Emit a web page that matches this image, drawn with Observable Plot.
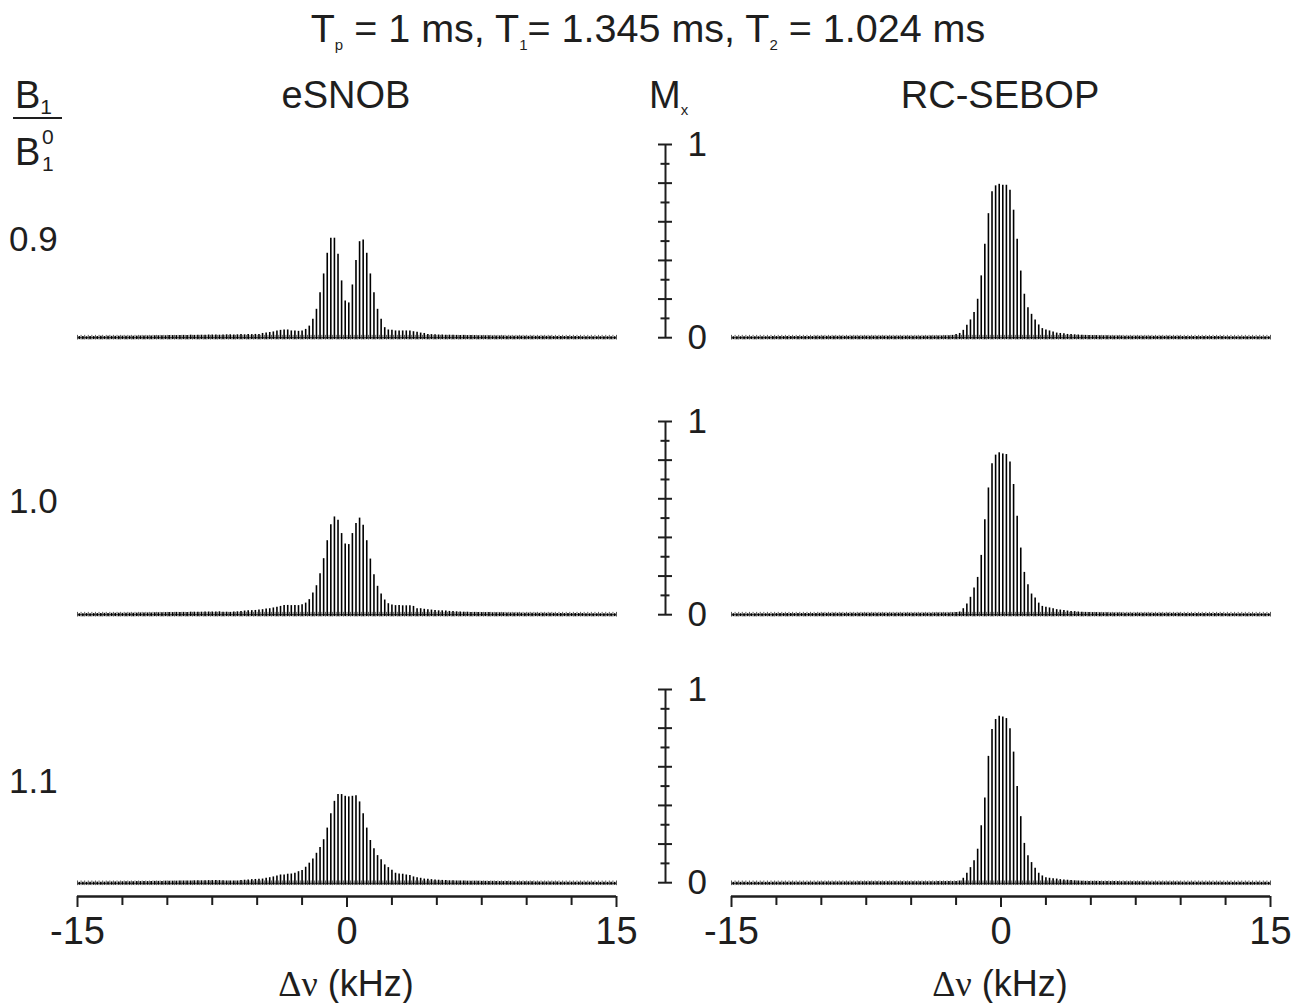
<!DOCTYPE html>
<html><head><meta charset="utf-8">
<script src="https://cdn.jsdelivr.net/npm/d3@7"></script>
<script src="https://cdn.jsdelivr.net/npm/@observablehq/plot@0.6"></script>
<style>
body{margin:0;background:#fff;font-family:"Liberation Sans",Arial,Helvetica,sans-serif;}
#root{position:relative;width:1302px;height:1003px;overflow:hidden;background:#fff;}
.t{position:absolute;white-space:nowrap;color:#1e1e1e;line-height:1;}
.t sub{font-size:15px;vertical-align:-8px;line-height:0;}
.c{transform:translateX(-50%);}
.plt{position:absolute;}
</style></head><body><div id="root"></div>
<script>
// ---------- data ----------
// stick positions (kHz): -14.9 ... 14.9 every 0.2 kHz
const freqs = d3.range(150).map(k => +(-14.9 + 0.2 * k).toFixed(1));
const gridFreqs = d3.range(151).map(k => +(-15 + 0.2 * k).toFixed(1));

const eSNOB_09 = [
0.006,0.006,0.005,0.006,0.006,0.006,0.007,0.006,0.007,0.007,
0.007,0.007,0.008,0.008,0.008,0.008,0.008,0.009,0.009,0.009,
0.009,0.010,0.010,0.010,0.010,0.011,0.011,0.011,0.012,0.012,
0.012,0.013,0.012,0.013,0.013,0.013,0.014,0.014,0.014,0.013,
0.014,0.015,0.015,0.014,0.015,0.016,0.015,0.016,0.016,0.017,
0.017,0.022,0.024,0.027,0.030,0.035,0.038,0.040,0.040,0.035,
0.035,0.033,0.035,0.043,0.060,0.095,0.147,0.233,0.330,0.437,
0.515,0.515,0.432,0.294,0.190,0.180,0.273,0.400,0.497,0.506,
0.437,0.330,0.233,0.147,0.095,0.052,0.040,0.038,0.035,0.035,
0.035,0.035,0.035,0.031,0.028,0.024,0.022,0.017,0.016,0.015,
0.014,0.014,0.013,0.013,0.013,0.012,0.012,0.012,0.011,0.011,
0.011,0.010,0.010,0.010,0.010,0.009,0.009,0.009,0.009,0.008,
0.008,0.008,0.008,0.008,0.008,0.007,0.007,0.007,0.007,0.007,
0.007,0.007,0.006,0.006,0.006,0.006,0.006,0.006,0.006,0.006,
0.005,0.005,0.005,0.005,0.005,0.005,0.005,0.005,0.005,0.005];

const eSNOB_10 = [
0.005,0.005,0.006,0.005,0.006,0.006,0.006,0.007,0.006,0.007,
0.007,0.007,0.007,0.008,0.008,0.008,0.008,0.009,0.009,0.009,
0.009,0.010,0.010,0.010,0.011,0.011,0.011,0.012,0.012,0.012,
0.012,0.013,0.013,0.013,0.013,0.014,0.014,0.014,0.014,0.015,
0.013,0.013,0.012,0.014,0.015,0.017,0.019,0.020,0.021,0.022,
0.024,0.026,0.030,0.031,0.035,0.038,0.043,0.047,0.048,0.047,
0.047,0.047,0.052,0.060,0.078,0.112,0.150,0.212,0.290,0.383,
0.466,0.506,0.489,0.420,0.366,0.363,0.420,0.472,0.500,0.463,
0.383,0.288,0.207,0.147,0.107,0.076,0.057,0.050,0.047,0.047,
0.046,0.046,0.046,0.043,0.031,0.031,0.028,0.026,0.024,0.022,
0.020,0.020,0.019,0.017,0.016,0.015,0.014,0.013,0.013,0.012,
0.012,0.012,0.011,0.011,0.011,0.010,0.010,0.010,0.010,0.009,
0.009,0.009,0.009,0.008,0.008,0.008,0.008,0.008,0.007,0.007,
0.007,0.007,0.007,0.006,0.006,0.006,0.006,0.006,0.006,0.006,
0.006,0.005,0.005,0.005,0.005,0.005,0.005,0.005,0.005,0.005];

const eSNOB_11 = [
0.005,0.005,0.005,0.006,0.006,0.006,0.006,0.006,0.007,0.007,
0.007,0.007,0.008,0.008,0.008,0.008,0.009,0.009,0.009,0.009,
0.010,0.010,0.010,0.010,0.011,0.011,0.011,0.011,0.012,0.012,
0.012,0.012,0.013,0.013,0.013,0.013,0.014,0.014,0.014,0.014,
0.013,0.012,0.012,0.012,0.012,0.014,0.016,0.017,0.019,0.020,
0.021,0.022,0.026,0.029,0.033,0.038,0.043,0.043,0.047,0.048,
0.052,0.060,0.066,0.083,0.104,0.126,0.155,0.185,0.225,0.285,
0.359,0.423,0.458,0.458,0.449,0.446,0.449,0.452,0.420,0.359,
0.285,0.221,0.178,0.143,0.121,0.095,0.081,0.067,0.052,0.048,
0.047,0.043,0.040,0.033,0.029,0.026,0.022,0.021,0.019,0.017,
0.016,0.015,0.014,0.013,0.013,0.012,0.012,0.012,0.011,0.011,
0.011,0.011,0.010,0.010,0.010,0.010,0.009,0.009,0.009,0.009,
0.009,0.008,0.008,0.008,0.008,0.008,0.008,0.007,0.007,0.007,
0.007,0.007,0.007,0.007,0.006,0.006,0.006,0.006,0.006,0.006,
0.006,0.006,0.006,0.005,0.005,0.005,0.005,0.005,0.005,0.005];

const sebop_09 = [
0.005,0.005,0.005,0.005,0.005,0.005,0.005,0.005,0.005,0.005,
0.005,0.006,0.006,0.006,0.006,0.006,0.006,0.006,0.006,0.006,
0.006,0.006,0.006,0.007,0.007,0.007,0.007,0.007,0.007,0.007,
0.007,0.007,0.007,0.007,0.008,0.008,0.008,0.008,0.008,0.008,
0.008,0.008,0.008,0.008,0.008,0.008,0.008,0.008,0.008,0.008,
0.008,0.008,0.008,0.008,0.008,0.009,0.009,0.009,0.009,0.010,
0.010,0.012,0.017,0.022,0.038,0.064,0.092,0.130,0.199,0.320,
0.484,0.642,0.756,0.786,0.794,0.789,0.789,0.763,0.660,0.510,
0.345,0.225,0.155,0.121,0.092,0.066,0.047,0.040,0.035,0.029,
0.024,0.022,0.021,0.017,0.016,0.015,0.014,0.013,0.012,0.012,
0.011,0.011,0.010,0.010,0.010,0.009,0.009,0.009,0.009,0.008,
0.008,0.008,0.008,0.008,0.008,0.008,0.007,0.007,0.007,0.007,
0.007,0.007,0.007,0.007,0.007,0.006,0.006,0.006,0.006,0.006,
0.006,0.006,0.006,0.006,0.006,0.006,0.006,0.005,0.005,0.005,
0.005,0.005,0.005,0.005,0.005,0.005,0.005,0.005,0.005,0.005];

const sebop_10 = [
0.005,0.005,0.005,0.005,0.005,0.005,0.005,0.005,0.005,0.005,
0.005,0.005,0.006,0.006,0.006,0.006,0.006,0.006,0.006,0.006,
0.006,0.006,0.006,0.006,0.007,0.007,0.007,0.007,0.007,0.007,
0.007,0.007,0.007,0.007,0.007,0.008,0.008,0.008,0.008,0.008,
0.008,0.008,0.008,0.008,0.008,0.008,0.008,0.008,0.008,0.008,
0.008,0.008,0.008,0.008,0.008,0.008,0.009,0.009,0.009,0.009,
0.009,0.010,0.011,0.014,0.031,0.055,0.090,0.138,0.193,0.307,
0.492,0.656,0.781,0.826,0.838,0.832,0.829,0.791,0.674,0.510,
0.345,0.219,0.155,0.107,0.086,0.060,0.043,0.038,0.035,0.031,
0.026,0.024,0.022,0.019,0.017,0.016,0.014,0.013,0.012,0.011,
0.011,0.011,0.010,0.010,0.010,0.009,0.009,0.009,0.009,0.008,
0.008,0.008,0.008,0.008,0.008,0.008,0.007,0.007,0.007,0.007,
0.007,0.007,0.007,0.007,0.007,0.006,0.006,0.006,0.006,0.006,
0.006,0.006,0.006,0.006,0.006,0.006,0.006,0.005,0.005,0.005,
0.005,0.005,0.005,0.005,0.005,0.005,0.005,0.005,0.005,0.005];

const sebop_11 = [
0.005,0.005,0.005,0.005,0.005,0.005,0.005,0.005,0.005,0.005,
0.005,0.005,0.006,0.006,0.006,0.006,0.006,0.006,0.006,0.006,
0.006,0.006,0.006,0.006,0.007,0.007,0.007,0.007,0.007,0.007,
0.007,0.007,0.007,0.007,0.007,0.008,0.008,0.008,0.008,0.008,
0.008,0.008,0.008,0.008,0.008,0.008,0.008,0.008,0.008,0.008,
0.008,0.008,0.008,0.008,0.008,0.008,0.008,0.009,0.009,0.009,
0.009,0.009,0.010,0.012,0.026,0.052,0.081,0.116,0.176,0.297,
0.440,0.655,0.793,0.845,0.862,0.858,0.850,0.798,0.677,0.499,
0.344,0.206,0.142,0.107,0.078,0.052,0.038,0.029,0.026,0.024,
0.022,0.019,0.017,0.016,0.014,0.013,0.012,0.011,0.010,0.010,
0.010,0.010,0.010,0.009,0.009,0.009,0.009,0.009,0.008,0.008,
0.008,0.008,0.008,0.008,0.008,0.008,0.007,0.007,0.007,0.007,
0.007,0.007,0.007,0.007,0.007,0.006,0.006,0.006,0.006,0.006,
0.006,0.006,0.006,0.006,0.006,0.006,0.006,0.005,0.005,0.005,
0.005,0.005,0.005,0.005,0.005,0.005,0.005,0.005,0.005,0.005];

const rowLabels = ["0.9", "1.0", "1.1"];
const columnTitles = ["eSNOB", "RC-SEBOP"];
const panelSeries = [[eSNOB_09, sebop_09], [eSNOB_10, sebop_10], [eSNOB_11, sebop_11]];
const xTickMajor = [-15, 0, 15];
const xTickMinor = [-12.5, -10, -7.5, -5, -2.5, 2.5, 5, 7.5, 10, 12.5];
const yTickMajor = [0, 0.2, 0.4, 0.6, 0.8, 1];
const yTickMinor = [0.1, 0.3, 0.5, 0.7, 0.9];
const yTickLabels = [0, 1];

// ---------- layout ----------
const root = document.getElementById("root");
const U = 193.5;                 // px per unit of Mx
const rowTop = [144, 421, 689];  // pixel of Mx = 1 per row
const colX0 = [77, 731];
const colW = 539;
const INK = "#1e1e1e";

function place(el, left, top) {
  el.classList.add("plt");
  el.style.left = left + "px";
  el.style.top = top + "px";
  root.appendChild(el);
}
function text(html, left, top, size, extra = "", cls = "t") {
  const d = document.createElement("div");
  d.className = cls;
  d.innerHTML = html;
  d.style.left = left + "px";
  d.style.top = top + "px";
  d.style.fontSize = size + "px";
  if (extra) d.style.cssText += extra;
  root.appendChild(d);
  return d;
}
const fmt = d => (d < 0 ? "-" + Math.abs(d) : String(d));

function panel(values, r, c) {
  const bottom = r === 2;
  const yMin = bottom ? -0.068 : -0.03;
  const mt = 12, mb = bottom ? 70 : 4;
  const h = Math.round(mt + (1 - yMin) * U + mb);
  const data = freqs.map((f, i) => ({f, v: values[i]}));
  const marks = [
    Plot.ruleY([0], {stroke: "#444", strokeWidth: 1.2}),
    Plot.ruleX(gridFreqs, {x: d => d, y1: -0.012, y2: 0.012, stroke: "#444", strokeWidth: 0.9}),
    Plot.ruleX(data, {x: "f", y1: -0.01, y2: "v", stroke: "#000", strokeWidth: 1.6})
  ];
  if (bottom) {
    marks.push(
      Plot.ruleY([yMin], {stroke: INK, strokeWidth: 2.6}),
      Plot.axisX({ticks: xTickMajor, tickSize: 11, tickPadding: 10, tickFormat: fmt, label: null, strokeWidth: 2, fontSize: 38}),
      Plot.axisX({ticks: xTickMinor, tickSize: 9, tickFormat: () => "", label: null, strokeWidth: 2})
    );
  }
  const svg = Plot.plot({
    width: colW + 40, height: h,
    marginLeft: 20, marginRight: 20, marginTop: mt, marginBottom: mb,
    x: {domain: [-15, 15], axis: null, label: null},
    y: {domain: [yMin, 1], axis: null, label: null},
    style: {color: INK, fontSize: "38px", fontFamily: "Liberation Sans, Arial, sans-serif", background: "transparent", overflow: "visible"},
    marks
  });
  place(svg, colX0[c] - 20, rowTop[r] - mt);
}

function yAxis(r) {
  const yMin = -0.03, mt = 12, mb = 4;
  const h = Math.round(mt + (1 - yMin) * U + mb);
  const svg = Plot.plot({
    width: 70, height: h,
    marginLeft: 0, marginRight: 50, marginTop: mt, marginBottom: mb,
    x: {domain: [-1, 1], axis: null},
    y: {domain: [yMin, 1], axis: null, label: null},
    style: {color: INK, fontSize: "36px", fontFamily: "Liberation Sans, Arial, sans-serif", background: "transparent", overflow: "visible"},
    marks: [
      Plot.ruleX([0], {y1: 0, y2: 1, stroke: INK, strokeWidth: 2}),
      Plot.tickY(yTickMajor, {y: d => d, insetLeft: 3, insetRight: 3, stroke: INK, strokeWidth: 2}),
      Plot.tickY(yTickMinor, {y: d => d, insetLeft: 5.5, insetRight: 5.5, stroke: INK, strokeWidth: 2}),
      Plot.axisY({anchor: "right", ticks: yTickLabels, tickSize: 0, tickPadding: 12, tickFormat: d => String(d), label: null, fontSize: 35})
    ]
  });
  place(svg, 665 - 10, rowTop[r] - mt);
}

for (let r = 0; r < 3; r++) {
  for (let c = 0; c < 2; c++) panel(panelSeries[r][c], r, c);
  yAxis(r);
}

// ---------- texts ----------
text("T<sub>p</sub> = 1 ms, T<sub>1</sub>= 1.345 ms, T<sub>2</sub> = 1.024 ms", 648, 9, 39.5, "", "t c");
text(columnTitles[0], 346, 76, 38, "", "t c");
text(columnTitles[1], 1000, 76, 38, "", "t c");
text("M<sub style=\"font-size:15px;vertical-align:-7px\">x</sub>", 649, 76, 38);
rowLabels.forEach((lab, i) => text(lab, 9, [221, 483, 763][i], 35));

// B1 / B1^0 fraction
text("B<sub style=\"font-size:21px;vertical-align:-6px\">1</sub>", 15, 76, 38);
const bar = document.createElement("div");
bar.style.cssText = "position:absolute;left:13px;top:117px;width:49px;height:0;border-top:2px solid " + INK + ";";
root.appendChild(bar);
text("B", 15, 133, 38);
text("0", 42, 126, 21);
text("1", 42, 153, 21);

// x-axis titles
const axTitle = "<span style=\"font-family:'Liberation Serif','Times New Roman',serif\">&Delta;&nu;</span> (kHz)";
text(axTitle, 346, 966, 36, "", "t c");
text(axTitle, 1000, 966, 36, "", "t c");
</script></body></html>
